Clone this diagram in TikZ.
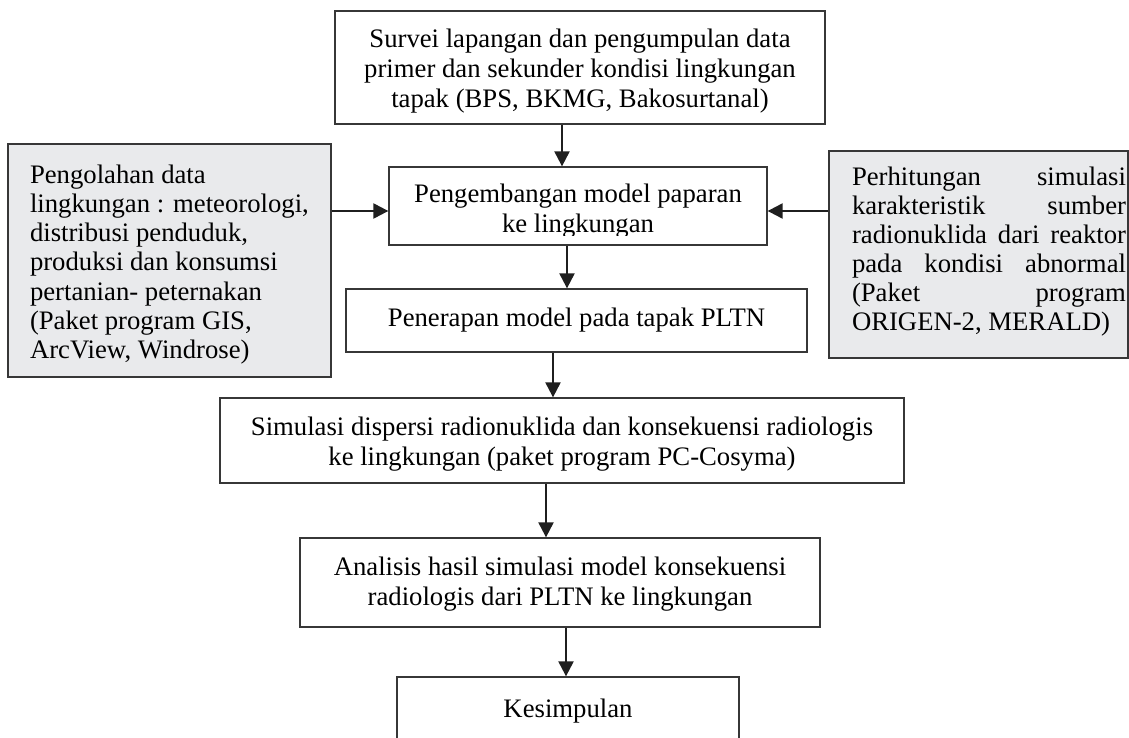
\documentclass[tikz,border=0pt]{standalone}
\usepackage{fontspec}
\setmainfont{Liberation Serif}
\usetikzlibrary{arrows.meta}
\definecolor{boxgray}{RGB}{233,234,236}
\definecolor{edge}{RGB}{55,55,55}
\begin{document}
\begin{tikzpicture}[x=1pt,y=-1pt,
  txt/.style={font=\fontsize{26.7}{30}\selectfont},
  box/.style={draw=edge, line width=1.3pt, inner sep=0pt, align=center, txt},
  graybox/.style={box, fill=boxgray},
  arr/.style={line width=2.2pt, draw=black!88, -{Triangle[length=15pt,width=15pt]}}
]
\useasboundingbox (0,0) rectangle (1129,738);

\node[box, minimum width=490, minimum height=113, text height=84.8pt] (top) at (580,67.5)
  {Survei lapangan dan pengumpulan data\\ primer dan sekunder kondisi lingkungan\\ tapak (BPS, BKMG, Bakosurtanal)};

\node[box, minimum width=378, minimum height=78] (peng) at (578,206) {};
\begin{scope}
  \clip (389,167) rectangle (767,235);
  \node[txt, align=center, inner sep=0pt, anchor=base] (pengtxt) at (578,232)
    {Pengembangan model paparan\\ ke lingkungan};
\end{scope}

\node[graybox, minimum width=323, minimum height=233] (left) at (169.5,260.5)
  {\hspace*{20pt}\parbox[c]{299pt}{\fontsize{26.7}{29.2}\selectfont\raggedright
   \vspace*{8pt}Pengolahan data\\ lingkungan : meteorologi,\\ distribusi penduduk,\\ produksi dan konsumsi\\ pertanian- peternakan\\ (Paket program GIS,\\ ArcView, Windrose)}};

\node[graybox, minimum width=299, minimum height=207] (right) at (978.5,254.5)
  {\hspace*{21pt}\parbox[c]{274pt}{\fontsize{26.7}{29}\selectfont\raggedright
   \makebox[274pt][s]{Perhitungan simulasi}\\
   \makebox[274pt][s]{karakteristik sumber}\\
   \makebox[274pt][s]{radionuklida dari reaktor}\\
   \makebox[274pt][s]{pada kondisi abnormal}\\
   \makebox[274pt][s]{(Paket program}\\
   ORIGEN-2, MERALD)\par\vspace*{6pt}}};

\node[box, minimum width=461, minimum height=63] (pen) at (576.5,320.5)
  {Penerapan model pada tapak PLTN};

\node[box, minimum width=684, minimum height=85, text height=54.8pt] (sim) at (562,440.5)
  {Simulasi dispersi radionuklida dan konsekuensi radiologis\\ ke lingkungan (paket program PC-Cosyma)};

\node[box, minimum width=520, minimum height=89, text height=50.8pt] (ana) at (560,582.5)
  {Analisis hasil simulasi model konsekuensi\\ radiologis dari PLTN ke lingkungan};

\node[box, minimum width=342, minimum height=68] (kes) at (568,711)
  {Kesimpulan};

% connectors
\draw[arr] ([xshift=-18pt]top.south) -- ([xshift=-18pt]top.south |- peng.north);
\draw[arr] ([yshift=-5pt]peng.west -| left.east) -- ([yshift=-5pt]peng.west);
\draw[arr] ([yshift=-5pt]peng.east -| right.west) -- ([yshift=-5pt]peng.east);
\draw[arr] ([xshift=-11pt]peng.south) -- ([xshift=-11pt]peng.south |- pen.north);
\draw[arr] ([xshift=-23.5pt]pen.south) -- ([xshift=-23.5pt]pen.south |- sim.north);
\draw[arr] ([xshift=-16pt]sim.south) -- ([xshift=-16pt]sim.south |- ana.north);
\draw[arr] ([xshift=6pt]ana.south) -- ([xshift=6pt]ana.south |- kes.north);
\end{tikzpicture}
\end{document}
